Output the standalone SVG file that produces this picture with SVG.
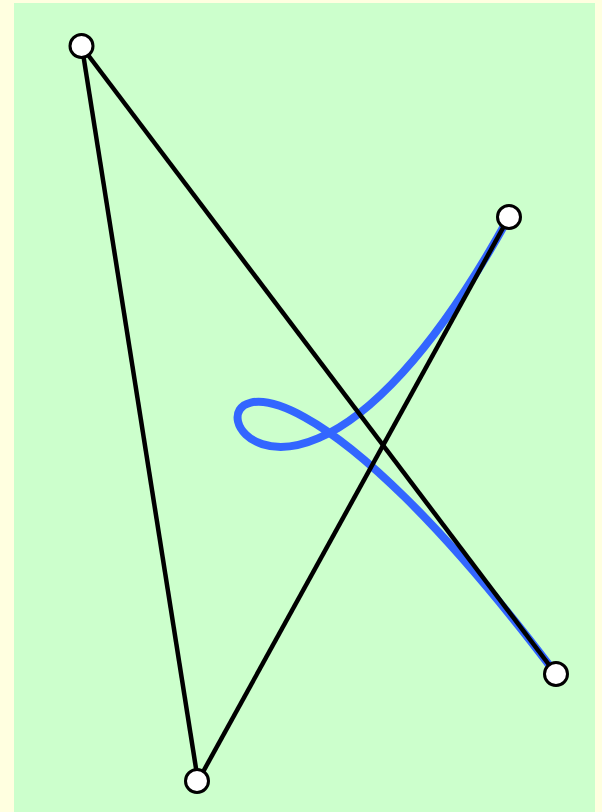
<svg xmlns="http://www.w3.org/2000/svg" width="602" height="812" viewBox="0 0 602 812">
<style>
.ctrl{fill:#fff;stroke:#000;stroke-width:3}
.leg{stroke:#000;stroke-width:4.5;fill:none}
</style>
<rect width="602" height="812" fill="#ffffe0"/>
<rect x="14" y="3" width="581" height="809" fill="#ccffcc"/>
<g id="curve"><path d="M509,217 C198,781 82,47 556,674" fill="none" stroke="#3366ff" stroke-width="8"/></g>
<g id="connectors">
<line class="leg" x1="509" y1="217" x2="198" y2="781"/>
<line class="leg" x1="198" y1="781" x2="82" y2="47"/>
<line class="leg" x1="82" y1="47" x2="556" y2="674"/>
</g>
<g id="p0"><circle class="ctrl" cx="509" cy="217" r="11.5"/></g>
<g id="p1"><circle class="ctrl" cx="197" cy="781" r="11.5"/></g>
<g id="p2"><circle class="ctrl" cx="81.5" cy="46" r="11.5"/></g>
<g id="p3"><circle class="ctrl" cx="556" cy="674" r="11.5"/></g>
</svg>
